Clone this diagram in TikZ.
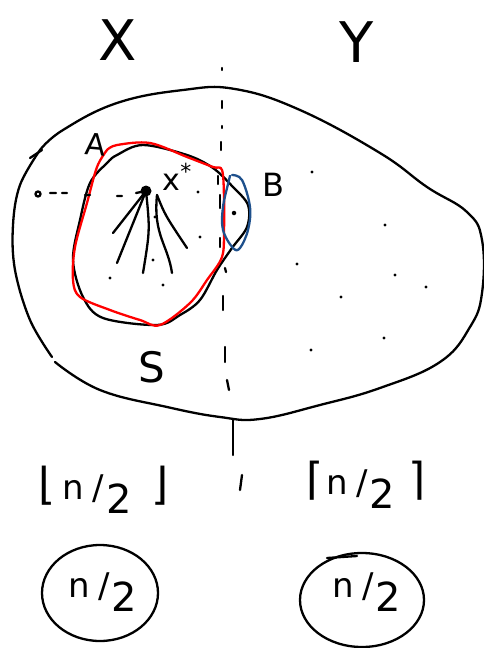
\documentclass[tikz,border=0pt]{standalone}
\usepackage{fontspec}
\setmainfont{DejaVu Sans}
\newcommand{\half}{n\hspace{0.25em}/\hspace{0.05em}\raisebox{-0.4em}{\fontsize{40}{40}\selectfont 2}}
\begin{document}
\begin{tikzpicture}[x=1pt,y=-1pt,
  ink/.style={line width=2.3pt,line cap=round,line join=round},
  lbl/.style={inner sep=0pt,font=\fontsize{#1}{#1}\selectfont}]
\useasboundingbox (0,0) rectangle (483,648);
\fill[white] (0,0) rectangle (483,648);
\definecolor{bpen}{RGB}{30,80,140}
% headings
\node[lbl=56] (X) at (118,40) {X};
\node[lbl=56] (Y) at (357,42) {Y};
% big shape
\draw[ink] plot[smooth, tension=0.7] coordinates {(40,150) (63,130) (117,103) (183,90) (235,89) (300,110) (380,153) (427,187) (467,212) (482,240) (482,293) (470,327) (440,362) (380,388) (320,405) (260,419) (220,417) (167,407) (100,390) (55,362)};
\draw[ink] plot[smooth, tension=0.6] coordinates {(52,357) (30,320) (15,270) (13,225) (20,185) (40,150)};
\draw[ink] (30,158) -- (42,150);
% vertical dashed divider
\draw[ink] (222,68) -- (222,70);
\draw[ink] (222,101) -- (222,108);
\draw[ink] (222,126) -- (222,128);
\draw[ink] (221,142) -- (221,150);
\draw[ink] (218,176) -- (218,184);
\draw[ink] (220,195) -- (220,208);
\draw[ink] (220,238) -- (220,247);
\draw[ink] (225,268) -- (226,272);
\draw[ink] (223,296) -- (223,310);
\draw[ink] (225,347) -- (225,362);
\draw[ink] (227,380) -- (229,390);
\draw[ink] (233,420) -- (233,455);
\draw[ink] (242,475) -- (240,490);
% set A (black)
\draw[ink] plot[smooth cycle, tension=0.55] coordinates {(117,155) (143,145) (187,155) (213,168) (233,187) (248,205) (247,227) (232,248) (217,270) (200,300) (180,315) (157,325) (103,318) (83,297) (73,260) (80,220) (90,183) (107,163)};
% red curve
\draw[ink,red] plot[smooth, tension=0.55] coordinates {(107,150) (117,145) (150,143) (187,157) (213,167) (222,170) (224,197) (224,230) (222,257) (207,280) (190,303) (160,325) (140,320) (110,310) (80,297) (73,280) (75,247) (87,203) (97,167) (107,150)};
% blue curve B
\draw[ink,bpen] plot[smooth, tension=0.6] coordinates {(232,175) (242,180) (250,207) (248,230) (240,248) (233,248) (223,230) (223,207) (229,180) (230,176)};
\node[fill=black,circle,inner sep=0pt,minimum size=4.5pt] (bdot) at (234,213) {};
% x* center and rays
\node[fill=black,circle,inner sep=0pt,minimum size=11pt] (c) at (146,191) {};
\coordinate (r1) at (113,233);
\coordinate (r2) at (117,263);
\coordinate (r3) at (143,273);
\coordinate (r4) at (172,273);
\coordinate (r5) at (187,248);
\coordinate (o) at (38,194);
\draw[ink] (c.center) -- (r1);
\draw[ink] (c.center) -- (r2);
\draw[ink] (c.center) .. controls (150,230) .. (r3);
\draw[ink] (157,195) .. controls (153,235) and (168,245) .. (r4);
\draw[ink] (157,195) .. controls (165,215) .. (r5);
\draw[ink] (o) circle (2.5pt);
\draw[ink] (50,193) -- (56,193) (62,193) -- (67,193) (85,195) -- (90,195) (117,196) -- (122,196) (136,193) -- (c.center);
\node[lbl=30] (xs) at (177,177) {x\raisebox{0.35em}{\fontsize{22}{22}\selectfont *}};
\node[lbl=30,rotate=-5] (A) at (96,144) {A};
\node[lbl=32] (B) at (273,185) {B};
\node[lbl=42] (S) at (152,367) {S};
% specks
\foreach \p in {(198,192),(200,237),(153,260),(110,278),(163,285),(312,172),(385,225),(297,264),(395,275),(341,297),(426,287),(384,338),(311,350),(155,217)}
  \fill \p circle (1.6pt);
% bottom labels
\node[lbl=34] (fl) at (104,490) {{\fontsize{44}{44}\selectfont ⌊}\hspace{0.2em}\half\hspace{0.6em}{\fontsize{44}{44}\selectfont ⌋}};
\node[lbl=34] (cl) at (366,485) {{\fontsize{44}{44}\selectfont ⌈}\hspace{0.1em}\half\hspace{0.4em}{\fontsize{44}{44}\selectfont ⌉}};
% circles
\draw[ink] (100,593) ellipse (58 and 48);
\node[lbl=34] (c1) at (103,592) {\half};
\draw[ink] (362,600) ellipse (62 and 47);
\node[lbl=34] (c2) at (367,592) {\half};
\draw[ink] (327,558) -- (357,556);
\end{tikzpicture}
\end{document}
